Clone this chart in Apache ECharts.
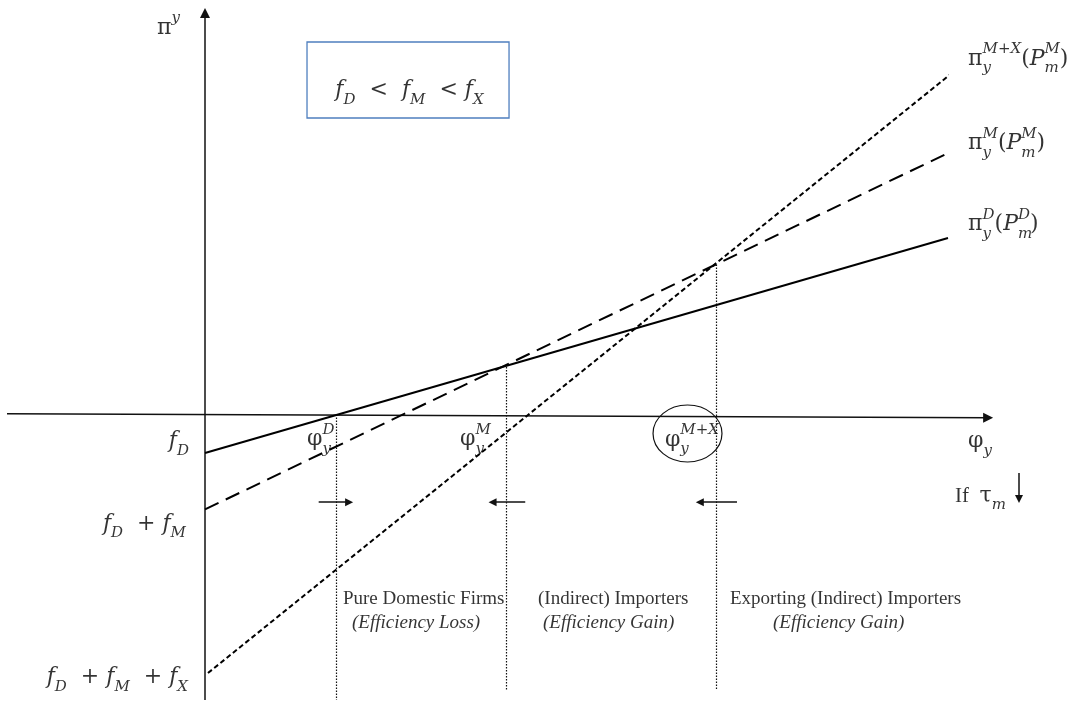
<!DOCTYPE html>
<html>
<head>
<meta charset="utf-8">
<script src="https://cdn.jsdelivr.net/npm/echarts@6/dist/echarts.min.js"></script>
<style>
  html, body { margin: 0; padding: 0; background: #ffffff; }
  #chart { width: 1074px; height: 701px; }
</style>
</head>
<body>
<div id="chart"></div>
<script>
// Horizontal axis: firm productivity φ_y; vertical axis: profit π^y.
// Units: φ runs 0..10 over the profit schedules, π is 0 on the horizontal axis.

// Profit schedules as [φ, π] end points
const profitD  = [[0, -1.00], [10, 4.60]];        // π_y^D(P_m^D)
const profitM  = [[0, -2.47], [10, 6.81]];        // π_y^M(P_m^M)
const profitMX = [[0.04, -6.73], [10.05, 8.89]];  // π_y^{M+X}(P_m^M)

// Productivity cut-offs φ_y^D, φ_y^M, φ_y^{M+X} and the span of their guide lines
const cutoffs      = [1.77, 4.05, 6.88];
const cutoffTop    = [0.00, 1.24, 3.91];
const cutoffBottom = [-7.43, -7.17, -7.17];

// Movement of each cut-off when τ_m falls: [from φ, to φ]
const shiftArrows = [[1.53, 1.94], [4.31, 3.87], [7.16, 6.66]];

// Axes and arrow geometry (φ, π)
const axisPhi  = [[-2.665, 0.02], [10.54, -0.08]];
const axisPi   = [[0, -7.43], [0, 10.46]];
const arrowLevel = -2.28;
const tauArrow = [[10.956, -1.52], [10.956, -2.20]];

// Text box with the fixed-cost ranking, and the ring around φ_y^{M+X}
const boxCorners = [1.373, 9.703, 4.092, 7.724];
const ringShape  = [6.494, -0.492, 0.464, 0.742];

// Labels: [φ, π, anchor, rich text]
const mathLabels = [
  [-0.646, 10.07, 'left',   '{m|π}{sup|y}'],
  [2.752,  8.45,  'center', '{i|f}{sub|D}{m|  <  }{i|f}{sub|M}{m|  < }{i|f}{sub|X}'],
  [10.27,  9.26,  'left',   '{m|π}{subz|y}{sup|M}{supu|+}{sup|X}{m|(}{i|P}{subz|m}{sup|M}{m|)}'],
  [10.27,  7.07,  'left',   '{m|π}{subz|y}{sup|M}{m|(}{i|P}{subz|m}{sup|M}{m|)}'],
  [10.27,  4.96,  'left',   '{m|π}{subz|y}{sup|D}{m|(}{i|P}{subz|m}{sup|D}{m|)}'],
  [-0.215, -0.70, 'right',  '{i|f}{sub|D}'],
  [-0.256, -2.85, 'right',  '{i|f}{sub|D}{m|  + }{i|f}{sub|M}'],
  [-0.229, -6.85, 'right',  '{i|f}{sub|D}{m|  + }{i|f}{sub|M}{m|  + }{i|f}{sub|X}'],
  [1.373,  -0.64, 'left',   '{m|φ}{subz|y}{sup|D}'],
  [3.432,  -0.64, 'left',   '{m|φ}{subz|y}{sup|M}'],
  [6.19,   -0.66, 'left',   '{m|φ}{subz|y}{sup|M}{supu|+}{sup|X}'],
  [10.27,  -0.70, 'left',   '{m|φ}{sub|y}'],
  [10.094, -2.12, 'left',   '{t|If  }{m|τ}{sub|m}']
];

const textLabels = [
  [1.857, -4.80, '{p|Pure Domestic Firms}'],
  [1.978, -5.43, '{pi|(Efficiency Loss)}'],
  [4.482, -4.80, '{p|(Indirect) Importers}'],
  [4.549, -5.43, '{pi|(Efficiency Gain)}'],
  [7.066, -4.80, '{p|Exporting (Indirect) Importers}'],
  [7.645, -5.43, '{pi|(Efficiency Gain)}']
];

const MATH = "'DejaVu Serif', serif";
const PROSE = "'Liberation Serif', serif";
const INK = '#000000';

const rich = {
  m:    { fontFamily: MATH, fontSize: 22, lineHeight: 34, color: INK },
  i:    { fontFamily: MATH, fontSize: 22, fontStyle: 'italic', lineHeight: 34, color: INK },
  t:    { fontFamily: PROSE, fontSize: 21, lineHeight: 34, color: INK },
  sup:  { fontFamily: MATH, fontSize: 15, fontStyle: 'italic', lineHeight: 17, verticalAlign: 'top', color: INK },
  supu: { fontFamily: MATH, fontSize: 15, lineHeight: 17, verticalAlign: 'top', color: INK },
  sub:  { fontFamily: MATH, fontSize: 15, fontStyle: 'italic', lineHeight: 17, verticalAlign: 'bottom', color: INK },
  subz: { fontFamily: MATH, fontSize: 15, fontStyle: 'italic', lineHeight: 17, verticalAlign: 'bottom', width: 0, color: INK },
  p:    { fontFamily: PROSE, fontSize: 19, lineHeight: 22, color: INK },
  pi:   { fontFamily: PROSE, fontSize: 19, fontStyle: 'italic', lineHeight: 22, color: INK }
};

function labelSeries(rows, alignOf, textOf) {
  return {
    type: 'scatter',
    silent: true,
    clip: false,
    symbol: 'circle',
    symbolSize: 1,
    itemStyle: { color: 'rgba(0,0,0,0)' },
    data: rows.map(r => ({
      value: [r[0], r[1]],
      label: { align: alignOf(r), formatter: textOf(r) }
    })),
    label: {
      show: true,
      position: [0.5, 0.5],
      verticalAlign: 'middle',
      color: INK,
      textBorderWidth: 0,
      rich: rich
    }
  };
}

function segment(points, style) {
  return {
    type: 'line',
    data: points,
    showSymbol: false,
    symbol: 'none',
    clip: false,
    silent: true,
    lineStyle: style
  };
}

const chart = echarts.init(document.getElementById('chart'), null, { renderer: 'canvas' });

chart.setOption({
  animation: false,
  backgroundColor: '#ffffff',
  grid: { left: 205, right: 126, top: 30.6, bottom: 17.6 },
  xAxis: { type: 'value', min: 0, max: 10, show: false },
  yAxis: { type: 'value', min: -7, max: 10, show: false },
  series: [
    // axes with arrow heads
    {
      type: 'lines',
      coordinateSystem: 'cartesian2d',
      silent: true,
      clip: false,
      symbol: ['none', 'triangle'],
      symbolSize: 10,
      lineStyle: { color: '#111111', width: 1.5, opacity: 1, curveness: 0 },
      data: [{ coords: axisPhi }, { coords: axisPi }]
    },
    // cut-off guide lines
    {
      type: 'lines',
      coordinateSystem: 'cartesian2d',
      silent: true,
      clip: false,
      symbol: 'none',
      lineStyle: { color: '#111111', width: 1.2, opacity: 1, type: [1.5, 1.5], curveness: 0 },
      data: cutoffs.map((c, k) => ({ coords: [[c, cutoffTop[k]], [c, cutoffBottom[k]]] }))
    },
    // profit schedules
    segment(profitD,  { color: INK, width: 2 }),
    segment(profitM,  { color: INK, width: 2, type: [15, 8] }),
    segment(profitMX, { color: INK, width: 2, type: [5, 3] }),
    // cut-off shifts and the τ_m arrow
    {
      type: 'lines',
      coordinateSystem: 'cartesian2d',
      silent: true,
      clip: false,
      symbol: ['none', 'triangle'],
      symbolSize: 8,
      lineStyle: { color: '#111111', width: 1.5, opacity: 1, curveness: 0 },
      data: shiftArrows.map(a => ({ coords: [[a[0], arrowLevel], [a[1], arrowLevel]] }))
        .concat([{ coords: tauArrow }])
    },
    // ranking box
    {
      type: 'custom',
      coordinateSystem: 'cartesian2d',
      silent: true,
      clip: false,
      data: [boxCorners],
      encode: { x: [0, 2], y: [1, 3] },
      renderItem: function (params, api) {
        const a = api.coord([api.value(0), api.value(1)]);
        const b = api.coord([api.value(2), api.value(3)]);
        return {
          type: 'rect',
          shape: { x: a[0], y: a[1], width: b[0] - a[0], height: b[1] - a[1] },
          style: { fill: 'none', stroke: '#4f7fbf', lineWidth: 1.3 }
        };
      }
    },
    // ring around φ_y^{M+X}
    {
      type: 'custom',
      coordinateSystem: 'cartesian2d',
      silent: true,
      clip: false,
      data: [ringShape],
      encode: { x: 0, y: 1 },
      renderItem: function (params, api) {
        const c = api.coord([api.value(0), api.value(1)]);
        const e = api.coord([api.value(0) + api.value(2), api.value(1) + api.value(3)]);
        return {
          type: 'ellipse',
          shape: { cx: c[0], cy: c[1], rx: e[0] - c[0], ry: c[1] - e[1] },
          style: { fill: 'none', stroke: '#111111', lineWidth: 1.2 }
        };
      }
    },
    labelSeries(mathLabels, r => r[2], r => r[3]),
    labelSeries(textLabels, () => 'left', r => r[2])
  ]
});
</script>
</body>
</html>
